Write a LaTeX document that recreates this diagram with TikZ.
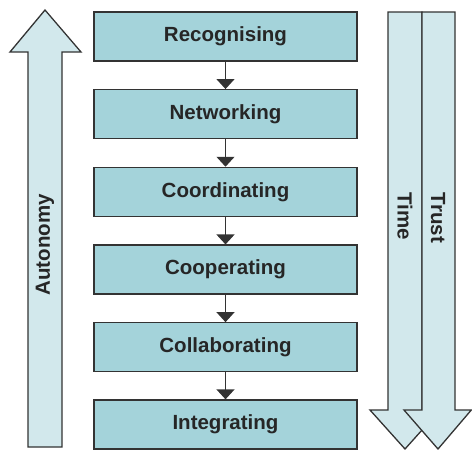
\documentclass[tikz,border=0pt]{standalone}
\usepackage{fontspec}
\setmainfont{Liberation Sans}
\usetikzlibrary{arrows.meta}
\definecolor{boxfill}{HTML}{A4D3DA}
\definecolor{arrowfill}{HTML}{D2E8EC}
\definecolor{edge}{HTML}{333333}
\begin{document}
\begin{tikzpicture}[x=1pt,y=-1pt,
  stagebox/.style={draw=edge,line width=1.3pt,fill=boxfill,minimum width=263pt,minimum height=49pt,inner sep=0pt,font=\fontsize{20.5}{24}\selectfont\bfseries,text=black!85},
  bigarrow/.style={draw=edge,line width=1.3pt,fill=arrowfill,line join=miter},
  arrowlabel/.style={font=\fontsize{20.5}{24}\selectfont\bfseries,text=black!85,inner sep=0pt},
  link/.style={draw=edge,line width=1.3pt,-{Triangle[width=18pt,length=10pt]}}]
\useasboundingbox (0,0) rectangle (472,450);
% Autonomy arrow
\draw[bigarrow] (28,447) -- (28,52) -- (10,52) -- (45,10) -- (81,52) -- (62,52) -- (62,447) -- cycle;
\node[arrowlabel,rotate=90] (autonomy) at (45,245) {Autonomy};
% Time arrow
\draw[bigarrow] (388,12) -- (422,12) -- (422,410) -- (440,410) -- (405,449) -- (370,410) -- (388,410) -- cycle;
% Trust arrow
\draw[bigarrow] (422,12) -- (455,12) -- (455,410) -- (471.3,410) -- (438,449) -- (404,410) -- (422,410) -- cycle;
\node[arrowlabel,rotate=-90] (time) at (405,216) {Time};
\node[arrowlabel,rotate=-90] (trust) at (438,218) {Trust};
% Stages
\node[stagebox] (s1) at (225.5,36.5) {Recognising};
\node[stagebox] (s2) at (225.5,114.2) {Networking};
\node[stagebox] (s3) at (225.5,191.9) {Coordinating};
\node[stagebox] (s4) at (225.5,269.6) {Cooperating};
\node[stagebox] (s5) at (225.5,347.3) {Collaborating};
\node[stagebox] (s6) at (225.5,424.5) {Integrating};
\draw[link] (s1) -- (s2);
\draw[link] (s2) -- (s3);
\draw[link] (s3) -- (s4);
\draw[link] (s4) -- (s5);
\draw[link] (s5) -- (s6);
\end{tikzpicture}
\end{document}
